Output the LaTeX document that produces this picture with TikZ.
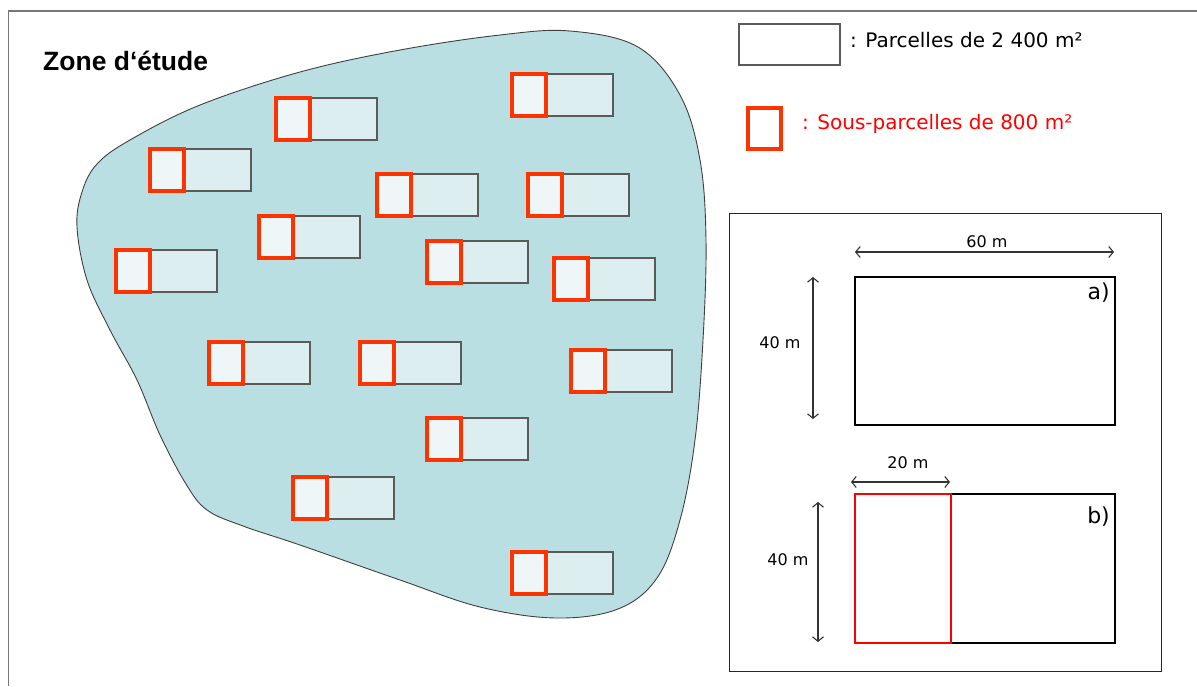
\documentclass[tikz,border=0pt]{standalone}
\usepackage{fontspec}
\setmainfont{DejaVu Sans}
\newfontfamily\dvs{DejaVu Sans}
\newfontfamily\arialb{Liberation Sans}
\usetikzlibrary{arrows.meta}
\definecolor{zonefill}{HTML}{BADFE2}
\definecolor{parcfill}{HTML}{DCEEF0}
\definecolor{subfill}{HTML}{EEF6F7}
\definecolor{subred}{HTML}{FF3300}
\definecolor{parcline}{HTML}{5A5A5A}
\definecolor{framegray}{HTML}{777777}
\tikzset{
  parcel/.style={draw=parcline, line width=1.1pt, fill=parcfill},
  subparcel/.style={draw=subred, line width=3.2pt, fill=subfill},
  zone/.style={draw=black!75, line width=0.9pt, fill=zonefill},
  plot/.style={draw=black, line width=2.5pt},
  redplot/.style={draw=red, line width=2.2pt},
  dimline/.style={draw=black!80, line width=1.1pt, arrows={Straight Barb[length=4.5pt,width=11pt]-Straight Barb[length=4.5pt,width=11pt]}},
  dimlabel/.style={font=\dvs\fontsize{16}{18}\selectfont, inner sep=0pt},
  letter/.style={font=\dvs\fontsize{22}{24}\selectfont, inner sep=0pt},
  legtext/.style={anchor=base west, inner sep=0pt, font=\fontsize{20}{22}\selectfont},
}
\begin{document}
\begin{tikzpicture}[x=1pt,y=-1pt]
\useasboundingbox (0,0) rectangle (1197,686);
% outer frame
\draw[framegray, line width=1.6pt] (8.5,686) -- (8.5,11) -- (1197,11);
% study zone
\path[zone] plot[smooth cycle, tension=0.6] coordinates {
 (77,227) (82,192) (97,164) (130,140) (200,105) (300,72) (400,50) (500,35)
 (570,31) (638,47) (680,95) (700,160) (706,240) (703,340) (695,440)
 (680,520) (657,578) (618,609) (556,618) (480,607) (400,580) (300,545)
 (243,526) (207,510) (186,484) (160,435) (137,380) (110,330) (87,280)};
\node[anchor=base west, inner sep=0pt, font=\arialb\bfseries\fontsize{26.5}{28}\selectfont] (zone) at (43,70) {Zone d‘étude};
% parcels
\foreach \x/\y [count=\i] in {512/74, 276/98, 150/149, 377/174, 528/174, 259/216, 116/250, 427/241,
  554/258, 209/342, 360/342, 571/350, 427/418, 293/477, 512/552}{
  \path[parcel] (\x,\y) rectangle ++(101,42);
  \path[subparcel] (\x,\y) rectangle ++(34,42);
}
% legend
\path[draw=parcline, line width=1.2pt, fill=white] (739,24) rectangle (840,65);
\node[legtext] (leg1) at (850,47) {: Parcelles de 2 400 m²};
\path[draw=subred, line width=3.2pt, fill=white] (748,108) rectangle (781,149);
\node[legtext, text=red] (leg2) at (802,129) {: Sous-parcelles de 800 m²};
% inset
\draw[black!85, line width=1pt] (729,213) rectangle (1161,671);
\draw[plot] (855,277) rectangle (1115,425);
\node[letter, anchor=base east] (la) at (1110,299) {a)};
\draw[plot] (951,494) -- (1115,494) -- (1115,643) -- (951,643);
\draw[redplot] (855,494) rectangle (951,643);
\node[letter, anchor=base east] (lb) at (1110,523) {b)};
% dimensions
\coordinate (w60a) at (855,252); \coordinate (w60b) at (1114,252);
\coordinate (h40a) at (813,277); \coordinate (h40b) at (813,419);
\coordinate (w20a) at (851,482); \coordinate (w20b) at (950,482);
\coordinate (h40c) at (818,502); \coordinate (h40d) at (818,642);
\draw[dimline] (w60a) -- (w60b);
\draw[dimline] (h40a) -- (h40b);
\draw[dimline] (w20a) -- (w20b);
\draw[dimline] (h40c) -- (h40d);
\node[dimlabel, anchor=base] (t60) at (987,247) {60 m};
\node[dimlabel] (t40a) at (780,343) {40 m};
\node[dimlabel, anchor=base] (t20) at (908,468) {20 m};
\node[dimlabel] (t40b) at (788,560) {40 m};
\end{tikzpicture}
\end{document}
